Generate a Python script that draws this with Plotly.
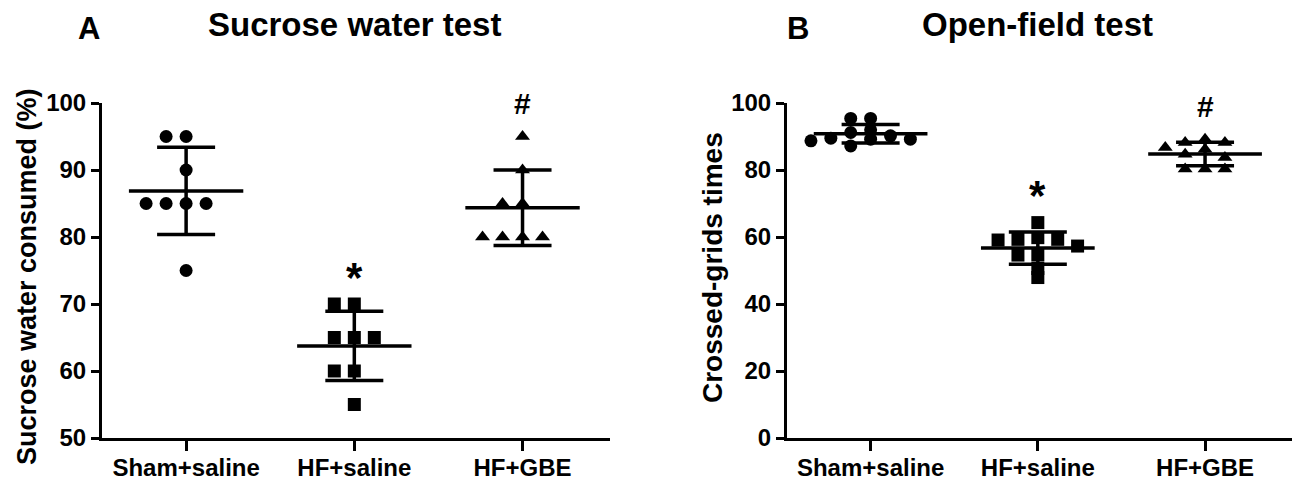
import numpy as np
import plotly.graph_objects as go

# ---------------- data ----------------
groups = ["Sham+saline", "HF+saline", "HF+GBE"]
sucrose_sham = [95, 95, 90, 85, 85, 85, 85, 75]
sucrose_hf = [70, 70, 65, 65, 65, 60, 60, 55]
sucrose_gbe = [95, 90, 85, 85, 80, 80, 80, 80]
grids_sham = [95.4, 95.4, 90.2, 89.2, 87.2, 91.2, 89.2, 92.0, 88.7, 89.5]
grids_hf = [59.1, 64.3, 59.3, 59.3, 54.6, 54.6, 57.3, 59.8, 50.6, 47.9]
grids_gbe = [84.7, 88.2, 88.2, 89.2, 86.7, 86.2, 83.7, 80.3, 80.3, 80.3]
symbols = ["circle", "square", "triangle-up"]
yticks_a = [50, 60, 70, 80, 90, 100]
yticks_b = [0, 20, 40, 60, 80, 100]
marks_a = ["", "*", "#"]
marks_b = ["", "*", "#"]

W, H = 1294, 481
OFF = 0  # body margin is removed below
FONT = "Liberation Sans, Arial, sans-serif"

# plot-area pixel geometry (page pixels)
A_X0, A_X1 = 102, 610
B_X0, B_X1 = 787, 1292
Y0, Y1 = 103, 438
XRANGE = [-0.5, 2.52]
PX_PER_CAT = (A_X1 - A_X0) / (XRANGE[1] - XRANGE[0])


def px(x):
    return (x - OFF) / W


def py(y):
    return 1 - (y - OFF) / H


def swarm(vals, px_per_unit, step_px=20, marker_px=9):
    """Beeswarm-like horizontal offsets (in category units)."""
    order = sorted(range(len(vals)), key=lambda i: -vals[i])
    seq = [0, -1, 1, -2, 2, -3, 3, -4, 4, -5, 5]
    placed = []
    offs = [0.0] * len(vals)
    for i in order:
        y = vals[i] * px_per_unit
        for s in seq:
            if all(not (ps == s and abs(yy - y) < marker_px) for ps, yy in placed):
                placed.append((s, y))
                offs[i] = s * step_px / PX_PER_CAT
                break
    return offs


fig = go.Figure()
ann = []


def add_panel(datasets, marks, xa, ya, yrange):
    px_per_unit = (Y1 - Y0) / (yrange[1] - yrange[0])
    for i, vals in enumerate(datasets):
        offs = swarm(vals, px_per_unit)
        fig.add_trace(go.Scatter(
            x=[i + o for o in offs], y=vals, mode="markers",
            marker=dict(symbol=symbols[i], size=13, color="black",
                        line=dict(width=0)),
            xaxis=xa, yaxis=ya, showlegend=False, hoverinfo="skip"))
        m = float(np.mean(vals))
        sd = float(np.std(vals, ddof=1))
        fig.add_trace(go.Scatter(
            x=[i - 0.34, i + 0.34], y=[m, m], mode="lines",
            line=dict(color="black", width=3.5),
            xaxis=xa, yaxis=ya, showlegend=False, hoverinfo="skip"))
        fig.add_trace(go.Scatter(
            x=[i], y=[m], mode="markers",
            marker=dict(size=1, color="rgba(0,0,0,0)"),
            error_y=dict(type="data", array=[sd], symmetric=True,
                         color="black", thickness=3.5, width=29),
            xaxis=xa, yaxis=ya, showlegend=False, hoverinfo="skip"))
        mk = marks[i]
        if mk:
            ann.append(dict(text=mk, x=i, y=max(vals), xref=xa, yref=ya,
                            xanchor="center", yanchor="middle",
                            yshift=33 if mk == "#" else 27, showarrow=False,
                            font=dict(size=30 if mk == "#" else 42, weight="bold")))


add_panel([sucrose_sham, sucrose_hf, sucrose_gbe], marks_a, "x", "y", [50, 100])
add_panel([grids_sham, grids_hf, grids_gbe], marks_b, "x2", "y2", [0, 100])

ydom = [py(Y1), py(Y0)]
axis_common = dict(showline=True, linecolor="black", linewidth=3,
                   ticks="outside", tickwidth=3, tickcolor="black",
                   showgrid=False, zeroline=False, fixedrange=True,
                   automargin=False)
tf = dict(size=24, weight="bold", family=FONT, color="black")
fig.update_layout(
    template="none",
    width=W, height=H, autosize=False,
    margin=dict(l=0, r=0, t=0, b=0, pad=0),
    paper_bgcolor="white", plot_bgcolor="white",
    font=dict(family=FONT, color="black"),
    xaxis=dict(domain=[px(A_X0), px(A_X1)], range=XRANGE,
               tickvals=[0, 1, 2], ticktext=groups, ticklen=10,
               ticklabelstandoff=-4,
               tickfont=tf, anchor="y", **axis_common),
    yaxis=dict(domain=ydom, range=[50, 100], tickvals=yticks_a, ticklen=8,
               tickfont=tf, anchor="x", **axis_common),
    xaxis2=dict(domain=[px(B_X0), px(B_X1)], range=XRANGE,
                tickvals=[0, 1, 2], ticktext=groups, ticklen=10,
                ticklabelstandoff=-4,
                tickfont=tf, anchor="y2", **axis_common),
    yaxis2=dict(domain=ydom, range=[0, 100], tickvals=yticks_b, ticklen=8,
                tickfont=tf, anchor="x2", **axis_common),
)

# panel letters and titles
ann.append(dict(text="A", x=px(89), y=py(29), xref="paper", yref="paper",
                xanchor="center", yanchor="middle",
                showarrow=False, font=dict(size=31, weight="bold")))
ann.append(dict(text="B", x=px(798), y=py(29), xref="paper", yref="paper",
                xanchor="center", yanchor="middle",
                showarrow=False, font=dict(size=31, weight="bold")))
ann.append(dict(text="Sucrose water test", x=1, xref="x", y=py(25), yref="paper",
                xanchor="center", yanchor="middle",
                showarrow=False, font=dict(size=33, weight="bold")))
ann.append(dict(text="Open-field test", x=1, xref="x2", y=py(25), yref="paper",
                xanchor="center", yanchor="middle",
                showarrow=False, font=dict(size=33, weight="bold")))
# y-axis titles
ann.append(dict(text="Sucrose water consumed (%)", textangle=-90, x=px(27),
                y=py(277), xref="paper", yref="paper", showarrow=False,
                xanchor="center", yanchor="middle",
                font=dict(size=27, weight="bold")))
ann.append(dict(text="Crossed-grids times", textangle=-90, x=px(712),
                y=py(268), xref="paper", yref="paper", showarrow=False,
                xanchor="center", yanchor="middle",
                font=dict(size=28, weight="bold")))
fig.update_layout(annotations=ann)

fig.write_html("out.html",
               config={"displayModeBar": False, "staticPlot": True},
               post_script="document.body.style.margin='0';"
                           "document.body.style.overflow='hidden';")
